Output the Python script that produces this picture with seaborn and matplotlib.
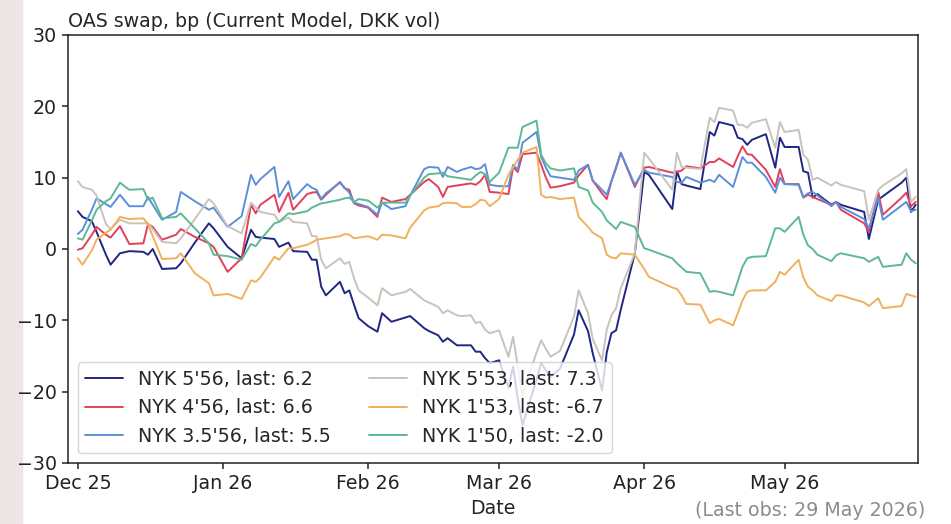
import pandas as pd
import matplotlib
matplotlib.use("Agg")
import matplotlib.pyplot as plt
import matplotlib.dates as mdates
from matplotlib.patches import Rectangle
import seaborn as sns

# ------------------- Data -------------------
dates = [
    "2025-12-01", "2025-12-02", "2025-12-04", "2025-12-05", "2025-12-07", "2025-12-08", "2025-12-10", "2025-12-12", "2025-12-15", "2025-12-16",
    "2025-12-17", "2025-12-19", "2025-12-22", "2025-12-23", "2025-12-26", "2025-12-29", "2025-12-30", "2026-01-02", "2026-01-05", "2026-01-07",
    "2026-01-08", "2026-01-09", "2026-01-12", "2026-01-13", "2026-01-15", "2026-01-16", "2026-01-19", "2026-01-20", "2026-01-21", "2026-01-22",
    "2026-01-23", "2026-01-26", "2026-01-27", "2026-01-28", "2026-01-29", "2026-01-30", "2026-02-01", "2026-02-03", "2026-02-04", "2026-02-06",
    "2026-02-09", "2026-02-10", "2026-02-13", "2026-02-14", "2026-02-16", "2026-02-17", "2026-02-18", "2026-02-20", "2026-02-21", "2026-02-23",
    "2026-02-24", "2026-02-25", "2026-02-26", "2026-02-27", "2026-03-01", "2026-03-03", "2026-03-04", "2026-03-05", "2026-03-06", "2026-03-09",
    "2026-03-10", "2026-03-11", "2026-03-12", "2026-03-14", "2026-03-17", "2026-03-18", "2026-03-20", "2026-03-21", "2026-03-23", "2026-03-24",
    "2026-03-25", "2026-03-26", "2026-03-27", "2026-03-30", "2026-04-01", "2026-04-02", "2026-04-07", "2026-04-08", "2026-04-09", "2026-04-10",
    "2026-04-13", "2026-04-15", "2026-04-16", "2026-04-17", "2026-04-20", "2026-04-21", "2026-04-22", "2026-04-23", "2026-04-24", "2026-04-27",
    "2026-04-29", "2026-04-30", "2026-05-01", "2026-05-04", "2026-05-05", "2026-05-06", "2026-05-07", "2026-05-08", "2026-05-11", "2026-05-12",
    "2026-05-13", "2026-05-18", "2026-05-19", "2026-05-21", "2026-05-22", "2026-05-26", "2026-05-27", "2026-05-28", "2026-05-29",
]

nyk_5_56 = [
    5.3, 4.5, 3.9, 2.4, -0.8, -2.2, -0.6, -0.3, -0.4, -0.8,
    0.0, -2.8, -2.7, -2.0, 0.9, 3.6, 2.9, 0.3, -1.3, 2.7,
    1.7, 1.6, 1.4, 0.3, 0.9, -0.3, -0.4, -1.5, -1.5, -5.3,
    -6.5, -4.6, -6.2, -5.8, -7.8, -9.7, -10.8, -11.6, -9.0, -10.2,
    -9.6, -9.4, -11.1, -11.5, -12.1, -13.0, -12.5, -13.5, -13.5, -13.5,
    -14.4, -14.4, -15.3, -16.0, -15.6, -19.4, -16.5, -21.0, -24.7, -18.3,
    -16.0, -17.0, -17.9, -16.8, -12.0, -8.6, -11.5, -14.6, -19.8, -14.5,
    -11.8, -11.4, -8.5, -0.6, 10.8, 10.4, 5.6, 10.9, 9.1, 8.9,
    8.4, 16.4, 15.9, 17.8, 17.3, 15.6, 15.4, 14.6, 15.3, 16.1,
    11.4, 15.6, 14.3, 14.3, 10.9, 10.7, 7.2, 7.7, 6.2, 6.6,
    6.2, 5.2, 1.4, 6.9, 7.4, 9.3, 10.0, 5.2, 6.2,
]

nyk_4_56 = [
    -0.1, 0.1, 2.0, 3.1, 2.0, 1.6, 3.2, 0.7, 0.8, 3.5,
    3.1, 1.3, 2.0, 2.8, 1.7, 0.8, 0.3, -3.2, -1.3, 6.2,
    5.0, 6.2, 7.6, 5.2, 7.9, 5.5, 7.7, 7.9, 8.0, 6.9,
    7.6, 9.4, 8.5, 8.3, 6.4, 6.1, 5.8, 4.5, 7.2, 6.6,
    7.0, 7.6, 9.4, 9.8, 8.7, 7.3, 8.7, 8.9, 9.0, 9.2,
    9.0, 9.5, 10.4, 8.0, 7.9, 7.7, 11.5, 10.8, 13.3, 13.5,
    11.8, 10.0, 8.6, 8.8, 9.3, 10.3, 11.8, 9.6, 7.8, 7.0,
    9.5, 11.5, 13.5, 8.7, 11.4, 11.5, 10.7, 10.8, 11.0, 11.6,
    11.3, 12.2, 12.2, 12.7, 11.5, 13.0, 14.4, 13.3, 13.2, 11.1,
    8.7, 11.2, 9.1, 9.1, 7.2, 7.6, 7.3, 7.0, 6.2, 6.6,
    5.5, 3.6, 2.4, 8.0, 4.8, 7.2, 7.9, 6.0, 6.6,
]

nyk_35_56 = [
    2.1, 2.7, 5.5, 7.1, 6.3, 5.9, 7.6, 6.0, 6.0, 7.3,
    6.2, 4.1, 5.2, 8.0, 6.7, 5.5, 5.8, 3.1, 4.6, 10.4,
    9.0, 9.8, 11.5, 7.3, 9.5, 7.0, 9.1, 8.6, 8.3, 7.0,
    7.8, 9.3, 8.6, 7.9, 6.5, 6.3, 5.9, 4.8, 6.5, 5.6,
    6.0, 7.5, 11.2, 11.5, 11.4, 10.1, 11.5, 10.8, 11.1, 11.5,
    11.2, 11.3, 11.9, 9.0, 8.8, 8.8, 11.8, 11.1, 14.9, 16.4,
    12.9, 11.4, 10.2, 10.0, 9.7, 11.0, 11.8, 9.6, 8.3, 7.6,
    9.5, 11.3, 13.5, 9.0, 11.1, 10.7, 10.1, 9.4, 9.3, 10.1,
    9.3, 9.7, 9.4, 10.4, 8.7, 10.8, 12.9, 12.1, 12.1, 10.1,
    7.9, 10.0, 9.1, 9.0, 7.3, 7.8, 8.0, 7.5, 6.0, 6.6,
    5.9, 4.2, 2.9, 7.2, 4.1, 6.1, 6.6, 5.3, 5.5,
]

nyk_5_53 = [
    9.5, 8.7, 8.3, 7.5, 3.5, 2.8, 4.1, 3.6, 3.6, 3.6,
    2.8, 1.0, 0.8, 1.5, 4.2, 7.0, 6.4, 3.2, 2.2, 6.5,
    5.8, 5.2, 4.8, 3.8, 4.4, 3.8, 3.6, 1.8, 1.8, -1.5,
    -2.7, -1.3, -2.1, -1.8, -4.1, -5.8, -6.8, -7.9, -5.5, -6.5,
    -6.0, -5.6, -7.2, -7.5, -8.1, -9.0, -8.6, -9.3, -9.4, -9.3,
    -10.4, -10.2, -11.3, -11.8, -11.4, -15.1, -12.3, -16.5, -20.5, -14.5,
    -12.8, -14.0, -15.1, -14.3, -9.5, -5.8, -9.0, -12.6, -15.6, -11.3,
    -9.3, -8.3, -5.5, -0.6, 13.5, 12.7, 8.3, 13.5, 11.5, 11.4,
    11.2, 18.4, 17.8, 19.8, 19.4, 17.4, 17.4, 17.0, 17.7, 18.2,
    14.2, 17.8, 16.4, 16.7, 13.2, 12.5, 9.7, 10.0, 8.9, 9.4,
    9.0, 8.1, 4.1, 8.3, 8.9, 10.6, 11.2, 6.6, 7.3,
]

nyk_1_53 = [
    -1.3, -2.2, -0.2, 1.3, 2.3, 2.7, 4.5, 4.2, 4.3, 3.5,
    1.8, -1.4, -1.3, -0.6, -3.4, -4.8, -6.5, -6.3, -7.0, -4.4,
    -4.6, -4.0, -1.1, -1.5, 0.1, 0.1, 0.6, 0.9, 1.3, 1.4,
    1.5, 1.8, 2.1, 2.0, 1.5, 1.6, 1.8, 1.3, 2.0, 1.9,
    1.5, 3.0, 5.4, 5.8, 6.0, 6.4, 6.5, 6.4, 5.9, 5.9,
    6.3, 6.9, 6.8, 6.0, 7.0, 10.4, 11.5, 12.5, 13.5, 14.3,
    7.6, 7.2, 7.3, 7.0, 7.2, 4.5, 3.1, 2.3, 1.5, -0.8,
    -1.2, -1.3, -0.6, -0.8, -2.8, -3.9, -5.4, -5.6, -6.5, -7.7,
    -7.8, -10.4, -10.0, -9.8, -10.7, -9.0, -7.2, -6.0, -5.8, -5.8,
    -4.6, -3.2, -3.6, -1.5, -4.0, -5.3, -5.8, -6.5, -7.3, -6.5,
    -6.5, -7.5, -8.0, -6.9, -8.3, -8.0, -6.3, -6.5, -6.7,
]

nyk_1_50 = [
    1.5, 1.3, 4.0, 5.5, 6.7, 7.1, 9.3, 8.3, 8.4, 6.9,
    7.2, 4.3, 4.5, 5.0, 2.9, 0.8, -0.8, -1.0, -1.5, 0.7,
    0.4, 1.3, 3.6, 3.8, 5.0, 4.9, 5.3, 5.8, 6.1, 6.4,
    6.5, 6.9, 7.1, 7.2, 6.6, 7.0, 6.8, 5.8, 6.5, 6.5,
    6.5, 7.5, 10.0, 10.5, 10.6, 10.7, 10.2, 10.0, 9.9, 9.7,
    10.3, 10.8, 10.5, 9.4, 10.7, 14.2, 14.2, 14.2, 17.1, 18.0,
    13.2, 12.0, 11.3, 11.0, 11.3, 8.7, 8.2, 6.5, 5.2, 4.0,
    3.4, 2.8, 3.8, 3.1, 0.1, -0.1, -1.3, -2.0, -2.6, -3.2,
    -3.4, -6.0, -5.9, -6.0, -6.5, -4.5, -2.5, -1.3, -1.1, -1.0,
    2.9, 2.9, 2.4, 4.5, 2.0, 0.5, 0.0, -0.8, -1.7, -0.9,
    -0.6, -1.3, -1.8, -1.1, -2.5, -2.2, -0.6, -1.5, -2.0,
]

bond_names = ["NYK 5'56", "NYK 4'56", "NYK 3.5'56", "NYK 5'53", "NYK 1'53", "NYK 1'50"]
bond_series = [nyk_5_56, nyk_4_56, nyk_35_56, nyk_5_53, nyk_1_53, nyk_1_50]
bond_colors = ["#1f2683", "#e2405a", "#5b8fdc", "#c9c3bc", "#f0b05e", "#5db993"]
last_obs = "29 May 2026"

# ------------------- Plot -------------------
sns.set_theme(style="ticks")
plt.rcParams["font.family"] = ["DejaVu Sans"]
plt.rcParams["font.size"] = 13.7

x = pd.to_datetime(dates)

fig = plt.figure(figsize=(9.51, 5.24), dpi=100)
fig.patches.append(Rectangle((0, 0), 22 / 951, 1, transform=fig.transFigure,
                             color="#ece7e5", zorder=-1))
ax = fig.add_axes([68 / 951, 1 - 463 / 524, 850 / 951, 428 / 524])

for name, vals, col in zip(bond_names, bond_series, bond_colors):
    sns.lineplot(x=x, y=vals, color=col, lw=1.4, label=f"{name}, last: {vals[-1]:.1f}", ax=ax)

ax.set_ylim(-30, 30)
ax.set_yticks(range(-30, 31, 10))
ax.set_xlim(x[0] - pd.Timedelta(days=2.1), x[-1] + pd.Timedelta(days=0.5))
ax.xaxis.set_major_locator(mdates.MonthLocator())
ax.xaxis.set_major_formatter(mdates.DateFormatter("%b %y"))
ax.tick_params(axis="both", labelsize=13.7, length=4.5, width=1.1, colors="#222222")
for sp in ax.spines.values():
    sp.set_linewidth(1.1)
    sp.set_color("#222222")

ax.set_title("OAS swap, bp (Current Model, DKK vol)", loc="left", fontsize=13.7)
ax.set_xlabel("Date", fontsize=13.7)
ax.set_ylabel("")
ax.legend(ncol=2, loc="lower left", fontsize=13.7, frameon=True, framealpha=0.8)

fig.text(925 / 951, 1 - 511 / 524, f"(Last obs: {last_obs})", ha="right", va="center",
         fontsize=13.7, color="#8c8c8c")

fig.savefig("out.png", dpi=100)
